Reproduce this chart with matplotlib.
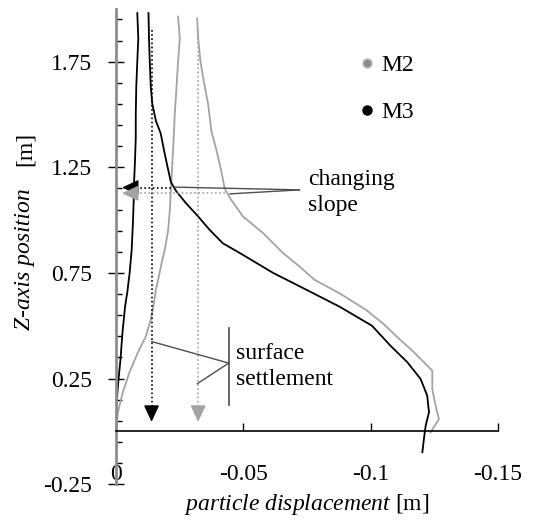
import numpy as np
import matplotlib
matplotlib.use('Agg')
import matplotlib.pyplot as plt
from matplotlib.lines import Line2D

# data (x = particle displacement [m], z = Z-axis position [m])
m3_left_z = [1.98, 1.86, 1.75, 1.63, 1.50, 1.39, 1.28, 1.17, 1.13, 0.99, 0.86, 0.75,
             0.66, 0.59, 0.47, 0.34, 0.23, 0.12, 0.055]
m3_left_x = [-0.0084, -0.0088, -0.0084, -0.0080, -0.0078, -0.0078, -0.0075, -0.0071,
             -0.0071, -0.0067, -0.0062, -0.0054, -0.0045, -0.0036, -0.0026, -0.0018,
             -0.0009, -0.0002, 0.0]

m3_right_z = [1.98, 1.86, 1.75, 1.63, 1.55, 1.47, 1.41, 1.33, 1.25, 1.18, 1.14, 1.08,
              1.02, 0.955, 0.89, 0.845, 0.75, 0.67, 0.59, 0.50, 0.405, 0.327, 0.248,
              0.169, 0.09, 0.027, -0.036, -0.099]
m3_right_x = [-0.0128, -0.0130, -0.0133, -0.0137, -0.0143, -0.0157, -0.0176, -0.0189,
              -0.0203, -0.0216, -0.0235, -0.0275, -0.0321, -0.0367, -0.0420, -0.0485,
              -0.0617, -0.0748, -0.0878, -0.1005, -0.1078, -0.1144, -0.1196, -0.1222,
              -0.1229, -0.1216, -0.1209, -0.1203]

m2_left_z = [1.963, 1.86, 1.75, 1.63, 1.50, 1.39, 1.28, 1.19, 1.127, 1.05, 0.95, 0.86,
             0.80, 0.73, 0.67, 0.59, 0.53, 0.45, 0.37, 0.275, 0.18, 0.085, 0.024]
m2_left_x = [-0.0244, -0.0251, -0.0244, -0.0238, -0.0231, -0.0227, -0.0222, -0.0218,
             -0.0215, -0.0212, -0.0205, -0.0192, -0.0180, -0.0168, -0.0157, -0.0147,
             -0.0137, -0.0118, -0.0085, -0.0052, -0.0026, -0.0007, -0.0004]

m2_right_z = [1.955, 1.86, 1.75, 1.63, 1.55, 1.42, 1.33, 1.23, 1.15, 1.10, 1.017, 0.938,
              0.844, 0.78, 0.717, 0.654, 0.575, 0.512, 0.44, 0.374, 0.287, 0.2, 0.12,
              0.058, -0.005]
m2_right_x = [-0.0319, -0.0323, -0.0332, -0.0349, -0.0362, -0.0375, -0.0395, -0.0414,
              -0.0427, -0.0450, -0.0499, -0.0578, -0.0656, -0.0721, -0.0780, -0.0877,
              -0.0982, -0.1047, -0.1110, -0.1170, -0.1242, -0.1242, -0.1255, -0.1268,
              -0.1235]

# settlement (vertical) and slope change (horizontal) guides
settle_x = [-0.0140, -0.0323]        # M3, M2
settle_z = [1.90, 0.045]             # from, to
slope_z = [1.154, 1.127]             # M3, M2
slope_x = [-0.0218, -0.0427]         # start of the horizontal guide
slope_end = -0.0024

xticks = [0, -0.05, -0.1, -0.15]
xtick_labels = ['0', '-0.05', '-0.1', '-0.15']
yticks = [-0.25, 0.25, 0.75, 1.25, 1.75]
ytick_labels = ['-0.25', '0.25', '0.75', '1.25', '1.75']

black = '#000000'
gray = '#a3a3a3'
note = '#4d4d4d'

plt.rcParams['font.family'] = 'Liberation Serif'
plt.rcParams['font.size'] = 17
plt.rcParams['mathtext.fontset'] = 'custom'
plt.rcParams['mathtext.it'] = 'Liberation Serif:italic'
plt.rcParams['mathtext.rm'] = 'Liberation Serif'

fig = plt.figure(figsize=(5.39, 5.20), dpi=100)
ax = fig.add_axes([0.215, 0.069, 0.709, 0.914])

ax.plot(m2_left_x, m2_left_z, color=gray, lw=1.3)
ax.plot(m2_right_x, m2_right_z, color=gray, lw=1.3)
ax.plot(m3_left_x, m3_left_z, color=black, lw=1.3)
ax.plot(m3_right_x, m3_right_z, color=black, lw=1.3)

# dotted guides with arrow heads
for x, c in zip(settle_x, [black, gray]):
    ax.plot([x, x], [settle_z[0], settle_z[1] + 0.05], color=c, lw=1.2, ls=(0, (1, 1.5)))
    ax.annotate('', xy=(x, settle_z[1]), xytext=(x, settle_z[1] + 0.06),
                arrowprops=dict(arrowstyle='-|>,head_length=0.6,head_width=0.28',
                                color=c, lw=1, shrinkA=0, shrinkB=0))
for z, x0, c in zip(slope_z, slope_x, [black, gray]):
    ax.plot([x0, slope_end - 0.002], [z, z], color=c, lw=1.2, ls=(0, (1, 1.5)))
    ax.annotate('', xy=(slope_end, z), xytext=(slope_end - 0.003, z),
                arrowprops=dict(arrowstyle='-|>,head_length=0.6,head_width=0.28',
                                color=c, lw=1, shrinkA=0, shrinkB=0))

# "changing slope" note
ax.text(-0.0755, 1.13, 'changing\nslope', ha='left', va='center', linespacing=1.3)
for xy in [(-0.0231, 1.156), (-0.0447, 1.124)]:
    ax.annotate('', xy=xy, xytext=(-0.0721, 1.143),
                arrowprops=dict(arrowstyle='-', color=note, lw=1, shrinkA=0, shrinkB=0))

# "surface settlement" note
ax.plot([-0.0443, -0.0443], [0.125, 0.488], color=note, lw=1.2)
ax.text(-0.0473, 0.305, 'surface\nsettlement', ha='left', va='center', linespacing=1.3)
for xy in [(-0.014, 0.425), (-0.0319, 0.225)]:
    ax.annotate('', xy=xy, xytext=(-0.0443, 0.323),
                arrowprops=dict(arrowstyle='-', color=note, lw=1, shrinkA=0, shrinkB=0))

handles = [Line2D([], [], ls='none', marker='o', ms=6.5, mfc='#8c8c8c', mec='#bdbdbd'),
           Line2D([], [], ls='none', marker='o', ms=6.5, mfc=black, mec=black)]
ax.legend(handles, ['M2', 'M3'], loc='upper left', bbox_to_anchor=(0.638, 0.903),
          frameon=False, handlelength=0.6, handletextpad=0.3, labelspacing=1.05,
          borderpad=0, borderaxespad=0)

ax.set_xlim(0, -0.15)
ax.set_ylim(-0.25, 2.0)
ax.spines['top'].set_visible(False)
ax.spines['right'].set_visible(False)
ax.spines['bottom'].set_position(('data', 0))
ax.spines['bottom'].set_linewidth(1.2)
ax.spines['left'].set_color('#8c8c8c')
ax.spines['left'].set_linewidth(2)

ax.set_xticks(xticks)
ax.set_xticklabels(xtick_labels)
ax.tick_params(axis='x', direction='in', length=6, width=1, pad=23.5)
ax.set_yticks(yticks)
ax.set_yticklabels(ytick_labels)
ax.set_yticks(np.arange(-0.15, 2.0, 0.1), minor=True)
ax.tick_params(axis='y', which='major', direction='inout', length=11, width=1, pad=11.5)
ax.tick_params(axis='y', which='minor', direction='in', length=4.5, width=1)

ax.set_xlabel(r'$\mathit{particle\ displacement}$ [m]', labelpad=5)

# y label: italic part plus unit, with the wide gap of the original
fig.text(25 / 539, 1 - 330 / 520, 'Z-axis position', rotation=90, style='italic',
         ha='center', va='bottom')
fig.text(25 / 539, 1 - 132 / 520, '[m]', rotation=90, ha='center', va='top')

fig.savefig('out.png', dpi=100)
